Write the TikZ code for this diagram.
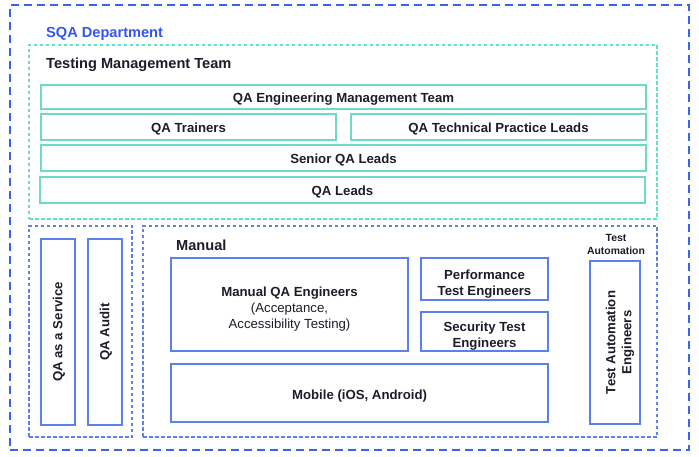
\documentclass[tikz,border=0pt]{standalone}
\usepackage{fontspec}
\setmainfont{Liberation Sans}
\definecolor{outerblue}{HTML}{3A64EE}
\definecolor{lblue}{HTML}{5E80F0}
\definecolor{boxblue}{HTML}{5A7FF0}
\definecolor{tealdash}{HTML}{5FE0C8}
\definecolor{tealbox}{HTML}{6ED9C4}
\definecolor{txt}{HTML}{1C1C2A}
\definecolor{titleblue}{HTML}{3355F5}
\begin{document}
\begin{tikzpicture}[x=1pt,y=-1pt,
  box/.style={draw, rectangle, inner sep=0pt, line width=1.3pt},
  tbox/.style={box, draw=tealbox},
  bbox/.style={box, draw=boxblue},
  grp/.style={rectangle, inner sep=0pt, line width=1.2pt, dash pattern=on 3.5pt off 2.5pt},
  lbl/.style={text=txt, font=\fontsize{13.2}{16}\selectfont\bfseries, align=center, inner sep=0pt},
  head/.style={anchor=west, text=txt, font=\fontsize{14.6}{16}\selectfont\bfseries, inner sep=0pt}
]
\useasboundingbox (0,0) rectangle (699,457);
% outer
\node[draw=outerblue, line width=1.8pt, dash pattern=on 8pt off 5pt, rectangle, minimum width=679pt, minimum height=445pt, inner sep=0pt] (outer) at (349.5,227.5) {};
\node[head, text=titleblue] (sqa) at (46,33.5) {SQA Department};
% testing management team
\node[grp, draw=tealdash, minimum width=628pt, minimum height=174pt] (tmt) at (343,132) {};
\node[head] (tmtl) at (46,65) {Testing Management Team};
\node[tbox, minimum width=605pt, minimum height=24pt] (qaem) at (343.5,97) {};
\node[lbl] (qaeml) at ([yshift=-2pt]qaem.center) {QA Engineering Management Team};
\node[tbox, minimum width=295pt, minimum height=26pt] (trainers) at (188.5,127) {};
\node[lbl] (trainersl) at ([yshift=-2pt]trainers.center) {QA Trainers};
\node[tbox, minimum width=295pt, minimum height=26pt] (tpl) at (498.5,127) {};
\node[lbl] (tpll) at ([yshift=-2pt]tpl.center) {QA Technical Practice Leads};
\node[tbox, minimum width=605pt, minimum height=26pt] (senior) at (343.5,158) {};
\node[lbl] (seniorl) at ([yshift=-2pt]senior.center) {Senior QA Leads};
\node[tbox, minimum width=605pt, minimum height=26pt] (leads) at (342.5,190) {};
\node[lbl] (leadsl) at ([yshift=-2pt]leads.center) {QA Leads};
% left group
\node[grp, draw=lblue, minimum width=103pt, minimum height=211pt] (leftgrp) at (80.5,331.5) {};
\node[bbox, minimum width=34pt, minimum height=186pt] (qaas) at (58,332) {};
\node[lbl, rotate=90] (qaasl) at ([xshift=1pt]qaas.center) {QA as a Service};
\node[bbox, minimum width=34pt, minimum height=186pt] (audit) at (105,332) {};
\node[lbl, rotate=90] (auditl) at ([xshift=1pt]audit.center) {QA Audit};
% manual group
\node[grp, draw=lblue, minimum width=514pt, minimum height=211pt] (mgrp) at (400,331.5) {};
\node[head] (manl) at (176,245) {Manual};
\node[bbox, minimum width=237pt, minimum height=93pt] (mqa) at (289.5,304.5) {};
\node[lbl] (mqal) at ([yshift=-5pt]mqa.center) {Manual QA Engineers\\\mdseries(Acceptance,\\\mdseries Accessibility Testing)};
\node[bbox, minimum width=127pt, minimum height=42pt] (perf) at (484.5,279) {};
\node[lbl] (perfl) at ([yshift=-5.5pt]perf.center) {Performance\\Test Engineers};
\node[bbox, minimum width=127pt, minimum height=39pt] (sec) at (484.5,331.5) {};
\node[lbl] (secl) at ([yshift=-4.5pt]sec.center) {Security Test\\Engineers};
\node[bbox, minimum width=377pt, minimum height=58pt] (mobile) at (359.5,393) {};
\node[lbl] (mobilel) at ([yshift=-3pt]mobile.center) {Mobile (iOS, Android)};
\node[text=txt, font=\fontsize{10.4}{13}\selectfont\bfseries, align=center, inner sep=0pt] (tal) at (616,244) {Test\\Automation};
\node[bbox, minimum width=50pt, minimum height=163pt] (tae) at (615,342.5) {};
\node[lbl, rotate=90] (tael) at ([xshift=5pt]tae.center) {Test Automation\\Engineers};
\end{tikzpicture}
\end{document}
